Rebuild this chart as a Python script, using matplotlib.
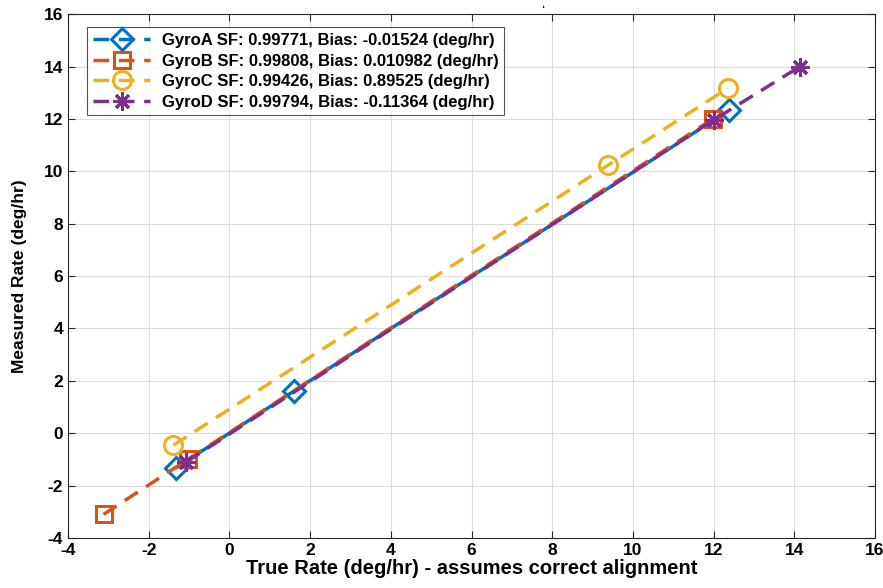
import matplotlib.pyplot as plt

plt.rcParams['font.family'] = ['Liberation Sans', 'DejaVu Sans']
plt.rcParams['font.weight'] = 'bold'
plt.rcParams['axes.unicode_minus'] = False

# true rate vs measured rate for each gyro (deg/hr)
gyro_a_true = [-1.33, 1.59, 12.38]
gyro_a_meas = [-1.33, 1.60, 12.33]
gyro_b_true = [-3.12, -1.02, 11.98]
gyro_b_meas = [-3.10, -0.99, 12.00]
gyro_c_true = [-1.39, 9.38, 12.35]
gyro_c_meas = [-0.46, 10.23, 13.17]
gyro_d_true = [-1.07, 12.0, 14.14]
gyro_d_meas = [-1.10, 11.96, 14.00]

labels = [
    'GyroA SF: 0.99771, Bias: -0.01524 (deg/hr)',
    'GyroB SF: 0.99808, Bias: 0.010982 (deg/hr)',
    'GyroC SF: 0.99426, Bias: 0.89525 (deg/hr)',
    'GyroD SF: 0.99794, Bias: -0.11364 (deg/hr)',
]
tick_vals = list(range(-4, 17, 2))
colors = ['#0072BD', '#D95319', '#EDB120', '#7E2F8E']
markers = ['D', 's', 'o', (8, 2, 0)]
sizes = [11, 11, 13, 13]

fig = plt.figure(figsize=(8.83, 5.88), dpi=100)
ax = fig.add_axes([0.077, 0.085, 0.914, 0.891])

series = [(gyro_a_true, gyro_a_meas), (gyro_b_true, gyro_b_meas),
          (gyro_c_true, gyro_c_meas), (gyro_d_true, gyro_d_meas)]
for (x, y), lab, c, m, s in zip(series, labels, colors, markers, sizes):
    ax.plot(x, y, linestyle=(0, (4.5, 2.8)), color=c, linewidth=2.5,
            marker=m, markersize=s, markerfacecolor='none',
            markeredgewidth=2.2, label=lab)

ax.set_xlim(-4, 16)
ax.set_ylim(-4, 16)
ax.set_xticks(tick_vals, labels=[str(v) for v in tick_vals],
              fontsize=12.5, fontweight='bold')
ax.set_yticks(tick_vals, labels=[str(v) for v in tick_vals],
              fontsize=12.5, fontweight='bold')
ax.grid(True, color='#dcdcdc', linewidth=0.8)
ax.set_axisbelow(True)
ax.tick_params(direction='in', top=True, right=True, length=5, color='#262626')
for sp in ax.spines.values():
    sp.set_color('#262626')
    sp.set_linewidth(0.8)

ax.set_xlabel('True Rate (deg/hr) - assumes correct alignment',
              fontsize=14.5, fontweight='bold', labelpad=1)
ax.set_ylabel('Measured Rate (deg/hr)', fontsize=12.5, fontweight='bold', labelpad=12)

leg = ax.legend(loc='upper left', bbox_to_anchor=(0.024, 0.975), fontsize=12,
                frameon=True, fancybox=False, edgecolor='#262626',
                handlelength=3.4, borderpad=0.35, labelspacing=0.33,
                handletextpad=0.7, borderaxespad=0)
leg.get_frame().set_linewidth(0.8)
for t in leg.get_texts():
    t.set_fontweight('bold')

# stray mark above the plot area
fig.text(543 / 883, 1 - 9 / 588, ',', fontsize=7, ha='center', va='center',
         rotation=180)

fig.savefig('out.png', dpi=100)
